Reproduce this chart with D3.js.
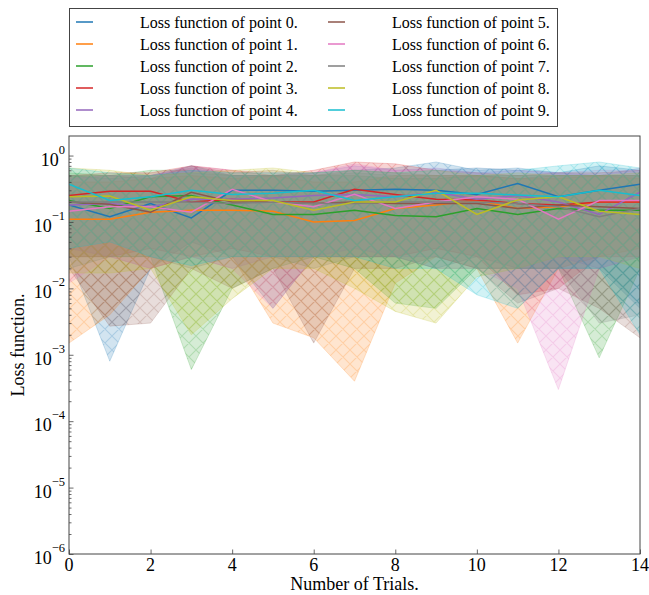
<!DOCTYPE html>
<html>
<head>
<meta charset="utf-8">
<script src="https://cdn.jsdelivr.net/npm/d3@7"></script>
<style>
body { margin: 0; background: #fff; }
text { font-family: "Liberation Serif", "Times New Roman", serif; fill: #000; }
</style>
</head>
<body>
<svg id="chart" width="649" height="595"></svg>
<script>

// trials on the x axis
var trials = [0, 1, 2, 3, 4, 5, 6, 7, 8, 9, 10, 11, 12, 13, 14]

var labels = ["Loss function of point 0.", "Loss function of point 1.", "Loss function of point 2.",
    "Loss function of point 3.", "Loss function of point 4.", "Loss function of point 5.",
    "Loss function of point 6.", "Loss function of point 7.", "Loss function of point 8.",
    "Loss function of point 9."]

// mean loss per point (one row per point)
var means = [
    [0.18, 0.12, 0.19, 0.115, 0.30, 0.30, 0.29, 0.30, 0.31, 0.30, 0.26, 0.38, 0.24, 0.30, 0.37],
    [0.11, 0.11, 0.14, 0.15, 0.15, 0.145, 0.10, 0.105, 0.16, 0.18, 0.21, 0.16, 0.17, 0.20, 0.20],
    [0.21, 0.16, 0.24, 0.25, 0.18, 0.13, 0.13, 0.15, 0.125, 0.12, 0.16, 0.13, 0.16, 0.15, 0.15],
    [0.25, 0.29, 0.29, 0.20, 0.22, 0.20, 0.20, 0.31, 0.26, 0.22, 0.215, 0.19, 0.18, 0.20, 0.20],
    [0.18, 0.19, 0.17, 0.22, 0.22, 0.23, 0.25, 0.26, 0.24, 0.28, 0.22, 0.25, 0.20, 0.13, 0.28],
    [0.20, 0.185, 0.14, 0.28, 0.20, 0.20, 0.19, 0.20, 0.19, 0.19, 0.19, 0.16, 0.18, 0.17, 0.16],
    [0.145, 0.17, 0.17, 0.14, 0.31, 0.20, 0.17, 0.26, 0.16, 0.20, 0.24, 0.22, 0.11, 0.21, 0.21],
    [0.20, 0.20, 0.20, 0.20, 0.19, 0.20, 0.19, 0.19, 0.20, 0.20, 0.20, 0.19, 0.17, 0.12, 0.16],
    [0.24, 0.245, 0.15, 0.24, 0.21, 0.21, 0.15, 0.20, 0.20, 0.30, 0.13, 0.215, 0.24, 0.145, 0.13],
    [0.37, 0.21, 0.24, 0.30, 0.26, 0.27, 0.30, 0.21, 0.24, 0.27, 0.27, 0.255, 0.24, 0.30, 0.25]
]

// lower edge of the shaded band
var lowers = [
    [0.03, 0.0008, 0.02, 0.05, 0.03, 0.005, 0.03, 0.03, 0.03, 0.02, 0.03, 0.02, 0.02, 0.02, 0.005],
    [0.0015, 0.004, 0.02, 0.03, 0.03, 0.003, 0.0018, 0.0004, 0.012, 0.03, 0.02, 0.0015, 0.02, 0.03, 0.04],
    [0.03, 0.03, 0.03, 0.0006, 0.01, 0.02, 0.03, 0.02, 0.006, 0.005, 0.02, 0.02, 0.02, 0.0009, 0.02],
    [0.03, 0.03, 0.04, 0.03, 0.04, 0.03, 0.03, 0.03, 0.03, 0.04, 0.03, 0.008, 0.01, 0.03, 0.03],
    [0.04, 0.03, 0.02, 0.03, 0.02, 0.03, 0.03, 0.04, 0.03, 0.03, 0.02, 0.02, 0.03, 0.02, 0.03],
    [0.02, 0.0027, 0.003, 0.02, 0.01, 0.02, 0.0015, 0.02, 0.02, 0.03, 0.02, 0.006, 0.01, 0.005, 0.0018],
    [0.012, 0.03, 0.02, 0.03, 0.02, 0.005, 0.03, 0.03, 0.03, 0.02, 0.02, 0.01, 0.0003, 0.02, 0.03],
    [0.02, 0.03, 0.03, 0.02, 0.03, 0.03, 0.02, 0.03, 0.03, 0.02, 0.02, 0.02, 0.02, 0.003, 0.004],
    [0.017, 0.017, 0.02, 0.002, 0.007, 0.02, 0.02, 0.01, 0.0045, 0.003, 0.015, 0.02, 0.03, 0.03, 0.02],
    [0.04, 0.05, 0.03, 0.022, 0.03, 0.03, 0.03, 0.03, 0.02, 0.02, 0.008, 0.005, 0.02, 0.02, 0.002]
]

// upper edge of the shaded band
var uppers = [
    [0.50, 0.45, 0.50, 0.70, 0.50, 0.50, 0.55, 0.60, 0.65, 0.80, 0.60, 0.65, 0.55, 0.70, 0.60],
    [0.40, 0.40, 0.45, 0.50, 0.45, 0.50, 0.40, 0.40, 0.50, 0.50, 0.50, 0.45, 0.45, 0.50, 0.45],
    [0.55, 0.50, 0.60, 0.60, 0.50, 0.50, 0.50, 0.50, 0.45, 0.45, 0.50, 0.50, 0.50, 0.50, 0.50],
    [0.50, 0.55, 0.55, 0.70, 0.60, 0.50, 0.60, 0.80, 0.75, 0.60, 0.55, 0.50, 0.55, 0.55, 0.60],
    [0.45, 0.50, 0.50, 0.65, 0.50, 0.50, 0.55, 0.70, 0.60, 0.65, 0.55, 0.60, 0.55, 0.50, 0.65],
    [0.50, 0.50, 0.45, 0.70, 0.55, 0.60, 0.50, 0.60, 0.55, 0.50, 0.50, 0.45, 0.50, 0.50, 0.50],
    [0.45, 0.50, 0.50, 0.70, 0.60, 0.55, 0.55, 0.75, 0.60, 0.60, 0.65, 0.60, 0.55, 0.60, 0.60],
    [0.50, 0.50, 0.50, 0.55, 0.50, 0.50, 0.50, 0.55, 0.50, 0.50, 0.50, 0.50, 0.50, 0.50, 0.50],
    [0.65, 0.60, 0.50, 0.55, 0.60, 0.65, 0.55, 0.60, 0.55, 0.60, 0.50, 0.55, 0.50, 0.50, 0.55],
    [0.65, 0.55, 0.50, 0.60, 0.55, 0.55, 0.55, 0.60, 0.55, 0.60, 0.65, 0.60, 0.70, 0.80, 0.65]
]

var xTicks = [0, 2, 4, 6, 8, 10, 12, 14]
var yTicks = [1e-6, 1e-5, 1e-4, 1e-3, 1e-2, 1e-1, 1e0]
var yExps = ["\u22126", "\u22125", "\u22124", "\u22123", "\u22122", "\u22121", "0"]

var colors = ["#1f77b4", "#ff7f0e", "#2ca02c", "#d62728", "#9467bd",
    "#8c564b", "#e377c2", "#7f7f7f", "#bcbd22", "#17becf"]

var svg = d3.select("#chart"),
    margin = { top: 136, left: 69, bottom: 41, right: 9 },
    width = +svg.attr("width"),
    height = +svg.attr("height")

var x = d3.scaleLinear()
    .domain([0, 14])
    .range([margin.left, width - margin.right])

var y = d3.scaleLog()
    .domain([1e-6, 1.97])
    .range([height - margin.bottom, margin.top])

// hatch patterns, one per colour
var defs = svg.append("defs")
colors.forEach(function (c, i) {
    var p = defs.append("pattern")
        .attr("id", "hatch" + i)
        .attr("patternUnits", "userSpaceOnUse")
        .attr("width", 14)
        .attr("height", 14)
    p.append("path")
        .attr("d", "M0,0L14,14M14,0L0,14M-2,12L2,16M12,-2L16,2M-2,2L2,-2M12,16L16,12")
        .attr("stroke", c)
        .attr("stroke-width", 1.1)
        .attr("fill", "none")
})

defs.append("clipPath").attr("id", "plotclip")
    .append("rect")
    .attr("x", margin.left).attr("y", margin.top)
    .attr("width", width - margin.left - margin.right)
    .attr("height", height - margin.top - margin.bottom)

var plot = svg.append("g").attr("clip-path", "url(#plotclip)")

var area = d3.area()
    .x(function (d) { return x(d.t) })
    .y0(function (d) { return y(d.lo) })
    .y1(function (d) { return y(d.hi) })

var line = d3.line()
    .x(function (d) { return x(d.t) })
    .y(function (d) { return y(d.m) })

var series = labels.map(function (l, i) {
    return trials.map(function (t, j) {
        return { t: t, m: means[i][j], lo: lowers[i][j], hi: uppers[i][j] }
    })
})

// bands first (under all lines)
series.forEach(function (s, i) {
    plot.append("path")
        .attr("d", area(s))
        .attr("fill", colors[i])
        .attr("fill-opacity", 0.2)
        .attr("stroke", colors[i])
        .attr("stroke-opacity", 0.2)
        .attr("stroke-width", 1)
    plot.append("path")
        .attr("d", area(s))
        .attr("fill", "url(#hatch" + i + ")")
        .attr("opacity", 0.22)
})

series.forEach(function (s, i) {
    plot.append("path")
        .attr("d", line(s))
        .attr("fill", "none")
        .attr("stroke", colors[i])
        .attr("stroke-width", 1.5)
})

// axes (ticks pointing inward)
var minor = []
for (var e = -6; e <= 0; e++) {
    for (var k = 2; k <= 9; k++) {
        var v = k * Math.pow(10, e)
        if (v < 1.97) minor.push(v)
    }
}

var yAxis = svg.append("g")
    .attr("transform", "translate(" + margin.left + ",0)")
    .call(d3.axisLeft(y).tickValues(yTicks).tickSize(-4.5).tickFormat(""))
var yMinor = svg.append("g")
    .attr("transform", "translate(" + margin.left + ",0)")
    .call(d3.axisLeft(y).tickValues(minor).tickSize(-2.5).tickFormat(""))

var xAxis = svg.append("g")
    .attr("transform", "translate(0," + (height - margin.bottom) + ")")
    .call(d3.axisBottom(x).tickValues(xTicks).tickSize(-4.5).tickFormat(""))

svg.selectAll(".domain").remove()
svg.selectAll(".tick line").attr("stroke", "#444").attr("stroke-width", 0.8)

yTicks.forEach(function (v, i) {
    var t = svg.append("text")
        .attr("x", margin.left - 4)
        .attr("y", y(v) + 10)
        .attr("text-anchor", "end")
        .style("font-size", "18px")
    t.append("tspan").text("10")
    t.append("tspan").attr("dy", -12).style("font-size", "12.5px").text(yExps[i])
})

xTicks.forEach(function (v) {
    svg.append("text")
        .attr("x", x(v))
        .attr("y", height - margin.bottom + 17)
        .attr("text-anchor", "middle")
        .style("font-size", "18px")
        .text(v)
})

svg.append("rect")
    .attr("x", margin.left)
    .attr("y", margin.top)
    .attr("width", width - margin.left - margin.right)
    .attr("height", height - margin.top - margin.bottom)
    .attr("fill", "none")
    .attr("stroke", "#444")
    .attr("stroke-width", 1)

svg.append("text")
    .attr("x", (margin.left + width - margin.right) / 2)
    .attr("y", 590)
    .attr("text-anchor", "middle")
    .style("font-size", "18px")
    .text("Number of Trials.")

svg.append("text")
    .attr("transform", "translate(24," + ((margin.top + height - margin.bottom) / 2) + ") rotate(-90)")
    .attr("text-anchor", "middle")
    .style("font-size", "18px")
    .text("Loss function.")

// legend above the plot, two columns of five
var legend = svg.append("g").attr("class", "legend")

legend.append("rect")
    .attr("x", 69.5).attr("y", 8.5)
    .attr("width", 488).attr("height", 118)
    .attr("fill", "#fff")
    .attr("stroke", "#444")
    .attr("stroke-width", 1)

var items = legend.selectAll("g.item")
    .data(labels)
    .enter().append("g")
    .attr("class", "item")
    .attr("transform", function (d, i) {
        return "translate(" + (i < 5 ? 76 : 328) + "," + (22 + (i % 5) * 22) + ")"
    })

items.append("line")
    .attr("x1", 0).attr("x2", 17)
    .attr("y1", 0).attr("y2", 0)
    .attr("stroke", function (d, i) { return colors[i] })
    .attr("stroke-width", 1.5)

items.append("text")
    .attr("x", 64)
    .attr("y", 5.5)
    .style("font-size", "16px")
    .text(function (d) { return d })

</script>
</body>
</html>
